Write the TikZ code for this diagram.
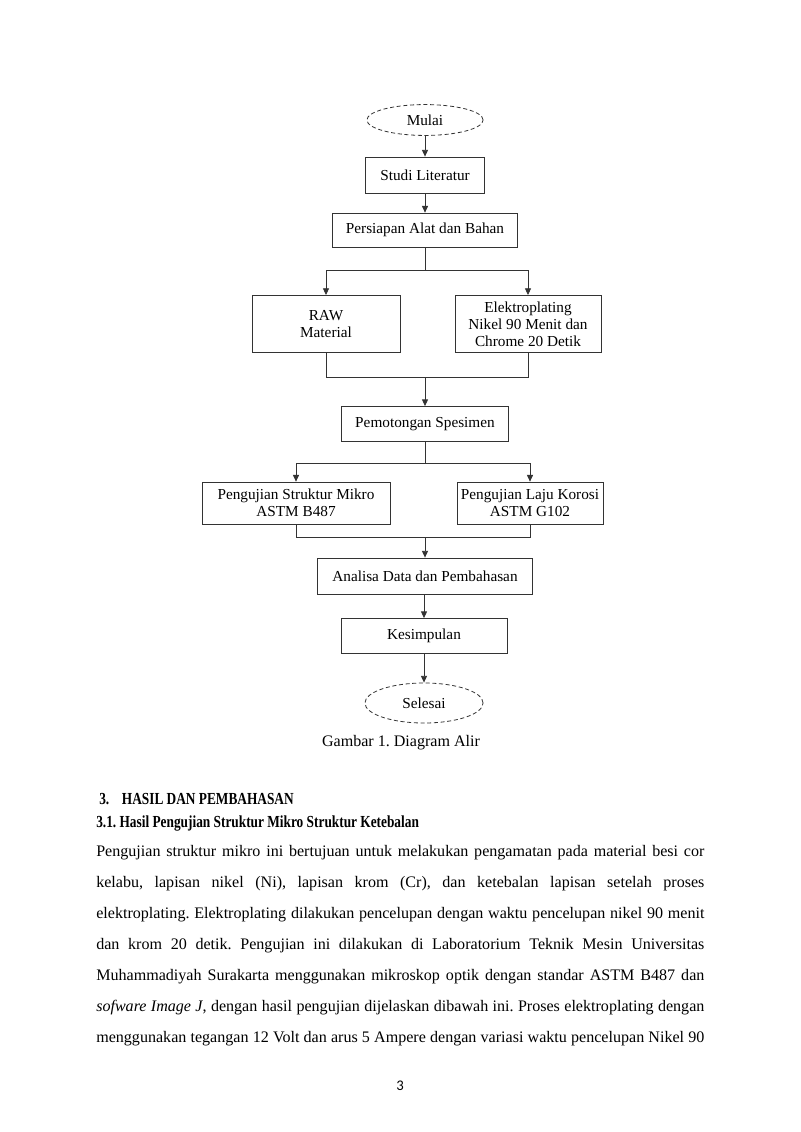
\documentclass[tikz,border=0pt]{standalone}
\usepackage{fontspec}
\setmainfont{Liberation Serif}
\newfontfamily\headfont{Liberation Serif}[FakeStretch=0.79]
\newfontfamily\pagefont{Carlito}
\usetikzlibrary{shapes.geometric,arrows.meta}
\frenchspacing

\newcommand{\jline}[1]{\hbox to 15.96cm{#1}}

\tikzset{
  box/.style={draw=black!80, line width=0.6pt, inner sep=0pt, align=center, font=\fontsize{11.4}{12.8}\selectfont},
  term/.style={ellipse, draw=black!80, densely dashed, line width=0.6pt, inner sep=0pt, font=\fontsize{11.4}{12.8}\selectfont},
  arr/.style={-{Triangle[length=5pt,width=4.5pt]}, draw=black!80, line width=0.6pt},
  conn/.style={draw=black!80, line width=0.6pt},
  txt/.style={anchor=west, inner sep=0pt, font=\fontsize{12}{14}\selectfont},
  head/.style={anchor=west, inner sep=0pt, font=\headfont\fontsize{12.6}{14}\selectfont\bfseries},
}

\begin{document}
\begin{tikzpicture}[x=0.02625cm, y=-0.02625cm]
    \useasboundingbox[fill=white] (0,0) rectangle (800,1132);

    % flowchart
    \node[term, minimum width=3.05cm, minimum height=0.81cm] (mul) at (425,120) {Mulai};
    \node[box, minimum width=3.12cm, minimum height=0.945cm] (stu) at (425,175) {Studi Literatur};
    \node[box, minimum width=4.86cm, minimum height=0.89cm] (prs) at (425,230) {Persiapan Alat dan Bahan};
    \node[box, minimum width=3.88cm, minimum height=1.5cm] (raw) at (326,324) {RAW\\Material};
    \node[box, minimum width=3.83cm, minimum height=1.5cm] (elk) at (528,324) {Elektroplating\\Nikel 90 Menit dan\\Chrome 20 Detik};
    \node[box, minimum width=4.38cm, minimum height=0.92cm] (pot) at (425,424) {Pemotongan Spesimen};
    \node[box, minimum width=4.93cm, minimum height=1.1cm] (psm) at (296,503) {Pengujian Struktur Mikro\\ASTM B487};
    \node[box, minimum width=3.83cm, minimum height=1.1cm] (plk) at (530,503) {Pengujian Laju Korosi\\ASTM G102};
    \node[box, minimum width=5.64cm, minimum height=0.945cm] (ana) at (425,576) {Analisa Data dan Pembahasan};
    \node[box, minimum width=4.36cm, minimum height=0.92cm] (kes) at (424,636) {Kesimpulan};
    \node[term, minimum width=3.1cm, minimum height=1.05cm] (sel) at (424,703) {Selesai};

    \coordinate (s1) at (425,270);
    \coordinate (m1) at (425,377);
    \coordinate (s2) at (425,463);
    \coordinate (m2) at (425,537);

    \draw[arr] (mul) -- (stu);
    \draw[arr] (stu) -- (prs);
    \draw[conn] (prs) -- (s1);
    \draw[arr] (s1) -| (raw);
    \draw[arr] (s1) -| (elk);
    \draw[conn] (raw) |- (m1);
    \draw[conn] (elk) |- (m1);
    \draw[arr] (m1) -- (pot);
    \draw[conn] (pot) -- (s2);
    \draw[arr] (s2) -| (psm);
    \draw[arr] (s2) -| (plk);
    \draw[conn] (psm) |- (m2);
    \draw[conn] (plk) |- (m2);
    \draw[arr] (m2) -- (ana);
    \draw[arr] (ana.south -| kes) -- (kes);
    \draw[arr] (kes) -- (sel);

    \node[font=\fontsize{12}{14}\selectfont] (cap) at (401,743) {Gambar 1. Diagram Alir};

    % text below
    \node[head] (h1) at (99,799) {3.\hspace{0.75em}HASIL DAN PEMBAHASAN};
    \node[head] (h2) at (96,823) {3.1. Hasil Pengujian Struktur Mikro Struktur Ketebalan};
    \node[txt] (l1) at (96,853) {\jline{Pengujian struktur mikro ini bertujuan untuk melakukan pengamatan pada material besi cor}};
    \node[txt] (l2) at (96,884) {\jline{kelabu, lapisan nikel (Ni), lapisan krom (Cr), dan ketebalan lapisan setelah proses}};
    \node[txt] (l3) at (96,915) {\jline{elektroplating. Elektroplating dilakukan pencelupan dengan waktu pencelupan nikel 90 menit}};
    \node[txt] (l4) at (96,946) {\jline{dan krom 20 detik. Pengujian ini dilakukan di Laboratorium Teknik Mesin Universitas}};
    \node[txt] (l5) at (96,977) {\jline{Muhammadiyah Surakarta menggunakan mikroskop optik dengan standar ASTM B487 dan}};
    \node[txt] (l6) at (96,1008) {\jline{\textit{sofware Image J}, dengan hasil pengujian dijelaskan dibawah ini. Proses elektroplating dengan}};
    \node[txt] (l7) at (96,1039) {\jline{menggunakan tegangan 12 Volt dan arus 5 Ampere dengan variasi waktu pencelupan Nikel 90}};

    \node[font=\pagefont\fontsize{11}{13}\selectfont] (pg) at (400,1086) {3};
\end{tikzpicture}
\end{document}
